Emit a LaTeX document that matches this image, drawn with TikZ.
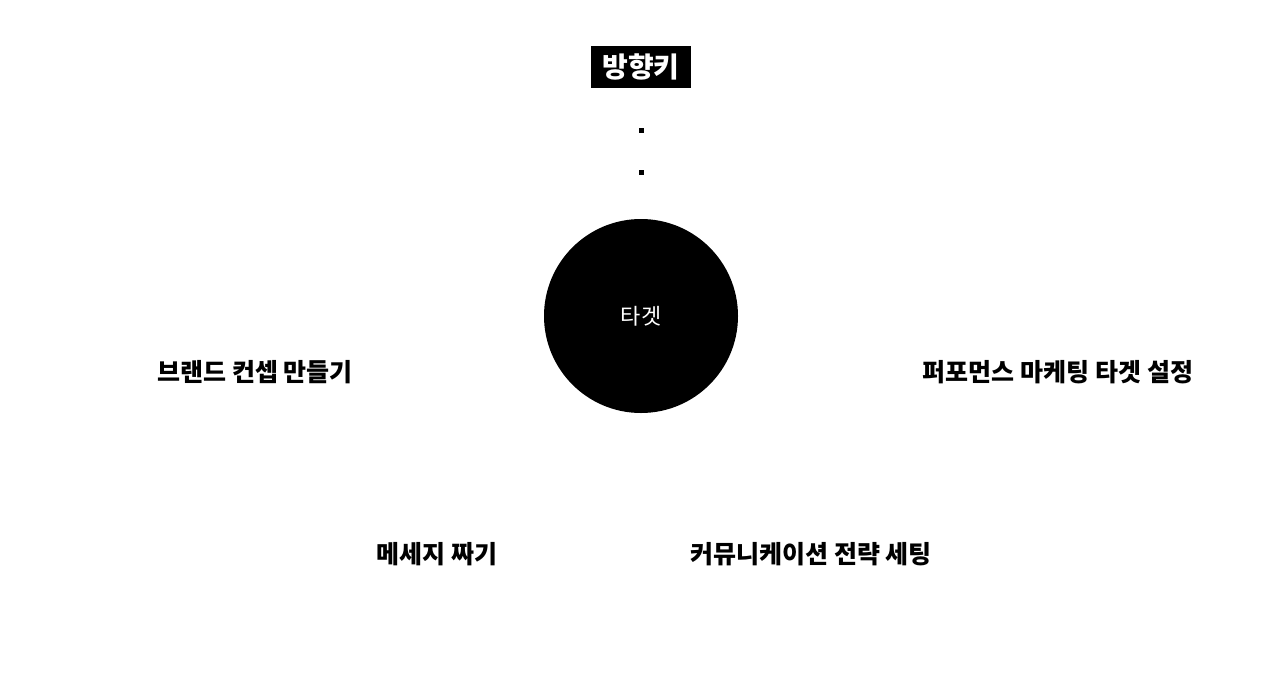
\documentclass[tikz,border=0pt]{standalone}
\usepackage{fontspec}
\setmainfont{Noto Sans CJK KR}
\usepackage{tikz}
\usetikzlibrary{positioning}

\begin{document}
\begin{tikzpicture}[x=1pt, y=-1pt]
\tikzset{every node/.style={inner sep=0pt, outer sep=0pt}}

\tikzstyle{title}=[fill=black, text=white, minimum width=100pt, minimum height=42pt, font=\fontsize{28}{30}\selectfont\bfseries]
\tikzstyle{target}=[circle, fill=black, text=white, minimum size=194pt, font=\fontsize{22}{24}\selectfont]
\tikzstyle{dot}=[fill=black, minimum size=5pt]
\tikzstyle{label}=[font=\fontsize{25}{27}\selectfont\bfseries]

\useasboundingbox[fill=white] (0,0) rectangle (1280,678);

\node[title] (key) at (641,67) {방향키};
\node[dot] (dot a) at (641,130) {};
\node[dot] (dot b) at (641,172) {};

\node[target] (tgt) at (641,316) {타겟};

\node[label] (brand) at (255,372) {브랜드 컨셉 만들기};
\node[label] (perf) at (1058,372) {퍼포먼스 마케팅 타겟 설정};
\node[label] (msg) at (437,554) {메세지 짜기};
\node[label] (comm) at (811,554) {커뮤니케이션 전략 세팅};

\end{tikzpicture}
\end{document}
